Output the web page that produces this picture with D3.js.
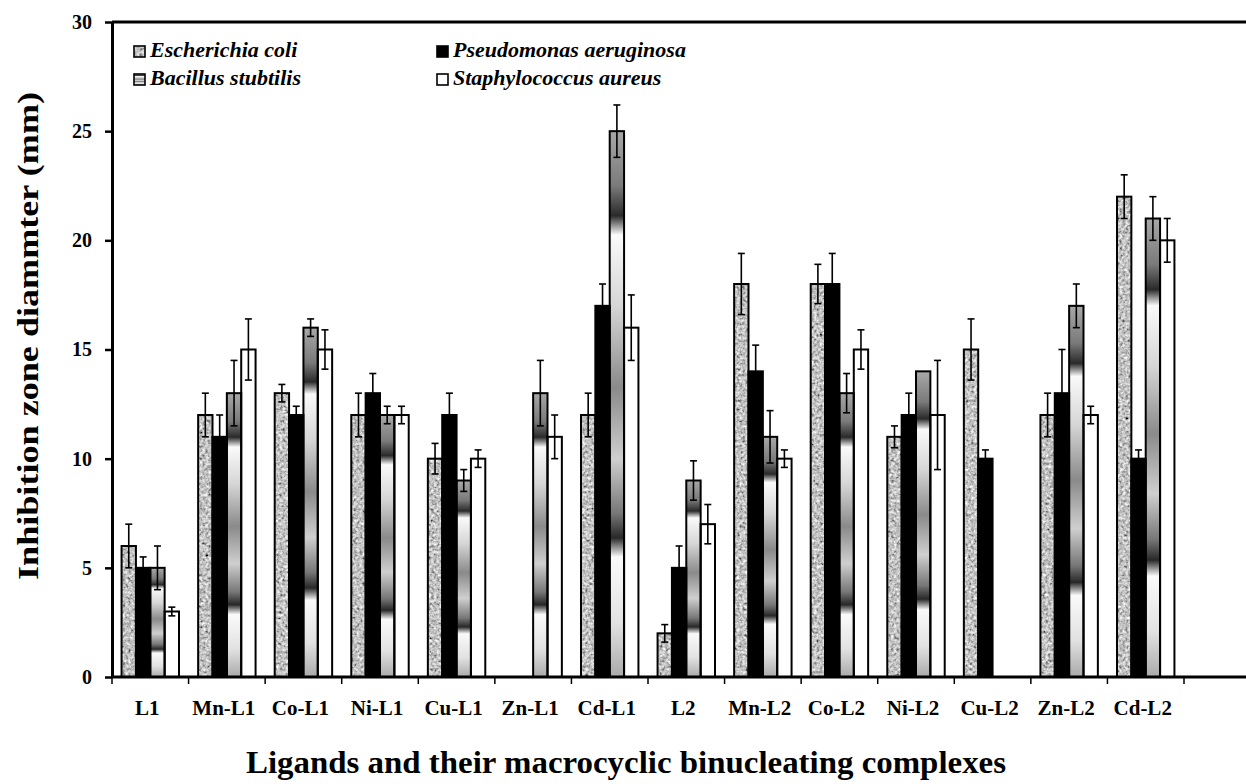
<!DOCTYPE html>
<html lang="en">
<head>
    <meta charset="UTF-8">
    <title>Inhibition zone chart</title>
    <style>
        body { margin: 0; background: #fff; }
    </style>
</head>
<body>
    <svg id="container" width="1246" height="784"></svg>

<script src="https://cdn.jsdelivr.net/npm/d3@7"></script>
<script>

    // chart data
    let categories = ["L1", "Mn-L1", "Co-L1", "Ni-L1", "Cu-L1", "Zn-L1", "Cd-L1",
                      "L2", "Mn-L2", "Co-L2", "Ni-L2", "Cu-L2", "Zn-L2", "Cd-L2"]
    let seriesNames = ["Escherichia coli", "Pseudomonas aeruginosa", "Bacillus stubtilis", "Staphylococcus aureus"]

    let ecoli     = [6, 12, 13, 12, 10, 0, 12, 2, 18, 18, 11, 15, 12, 22]
    let pseudo    = [5, 11, 12, 13, 12, 0, 17, 5, 14, 18, 12, 10, 13, 10]
    let bacillus  = [5, 13, 16, 12, 9, 13, 25, 9, 11, 13, 14, 0, 17, 21]
    let staph     = [3, 15, 15, 12, 10, 11, 16, 7, 10, 15, 12, 0, 12, 20]

    let ecoliErr    = [1, 1, 0.4, 1, 0.7, 0, 1, 0.4, 1.4, 0.9, 0.5, 1.4, 1, 1]
    let pseudoErr   = [0.5, 1, 0.4, 0.9, 1, 0, 1, 1, 1.2, 1.4, 1, 0.4, 2, 0.4]
    let bacillusErr = [1, 1.5, 0.4, 0.4, 0.5, 1.5, 1.2, 0.9, 1.2, 0.9, 0, 0, 1, 1]
    let staphErr    = [0.2, 1.4, 0.9, 0.4, 0.4, 1, 1.5, 0.9, 0.4, 0.9, 2.5, 0, 0.4, 1]

    let yTicks = [0, 5, 10, 15, 20, 25, 30]

    let values = [ecoli, pseudo, bacillus, staph]
    let errors = [ecoliErr, pseudoErr, bacillusErr, staphErr]

    let rows = []
    categories.forEach((c, i) => {
        seriesNames.forEach((s, j) => {
            rows.push({ cat: c, series: s, value: values[j][i], err: errors[j][i] })
        })
    })

    let serif = '"Liberation Serif", "Times New Roman", serif'
    let plotLeft = 112, plotRight = 1246, plotTop = 22, plotBottom = 677
    let plotEnd = 1184

    let container = d3.select("#container")
    let defs = container.append("defs")

    // speckled grey for E. coli
    let speckle = defs.append("filter").attr("id", "speckle")
        .attr("x", 0).attr("y", 0).attr("width", 1).attr("height", 1)
    speckle.append("feTurbulence").attr("type", "fractalNoise")
        .attr("baseFrequency", 0.35).attr("numOctaves", 2).attr("seed", 4).attr("result", "n")
    speckle.append("feColorMatrix").attr("in", "n").attr("type", "matrix")
        .attr("values", "0.33 0.33 0.33 0 0  0.33 0.33 0.33 0 0  0.33 0.33 0.33 0 0  0 0 0 0 1")
        .attr("result", "g")
    let ct = speckle.append("feComponentTransfer").attr("in", "g").attr("result", "c")
    ;["feFuncR", "feFuncG", "feFuncB"].forEach(f =>
        ct.append(f).attr("type", "linear").attr("slope", 2.1).attr("intercept", -0.5))
    speckle.append("feComposite").attr("in", "c").attr("in2", "SourceGraphic").attr("operator", "in")

    // banded gradient for B. subtilis
    let grad = defs.append("linearGradient").attr("id", "band")
        .attr("x1", 0).attr("y1", 0).attr("x2", 0).attr("y2", 1)
    ;[[0, "#a8a8a8"], [0.1, "#7a7a7a"], [0.155, "#2a2a2a"], [0.19, "#fafafa"], [0.32, "#d6d6d6"],
      [0.47, "#8a8a8a"], [0.6, "#cfcfcf"], [0.7, "#777"], [0.745, "#282828"], [0.78, "#fafafa"],
      [0.9, "#e2e2e2"], [1, "#aaa"]]
        .forEach(s => grad.append("stop").attr("offset", s[0]).attr("stop-color", s[1]))

    let fills = {
        "Escherichia coli": "#999",
        "Pseudomonas aeruginosa": "#000",
        "Bacillus stubtilis": "url(#band)",
        "Staphylococcus aureus": "#fff"
    }

    let y = d3.scaleLinear().domain([0, 30]).range([plotBottom, plotTop])

    let x0 = d3.scaleBand().domain(categories).range([plotLeft, plotEnd])
        .paddingInner(0.25).paddingOuter(0.125)
    let x1 = d3.scaleBand().domain(seriesNames).range([0, x0.bandwidth()])

    let bars = rows.filter(d => d.value > 0)

    let barG = container.append("g")
    barG.selectAll("rect.fill")
        .data(bars)
        .enter()
        .append("rect")
        .attr("x", d => x0(d.cat) + x1(d.series))
        .attr("y", d => y(d.value))
        .attr("width", x1.bandwidth())
        .attr("height", d => y(0) - y(d.value))
        .attr("fill", d => fills[d.series])
        .attr("filter", d => d.series == "Escherichia coli" ? "url(#speckle)" : null)

    barG.selectAll("rect.outline")
        .data(bars)
        .enter()
        .append("rect")
        .attr("x", d => x0(d.cat) + x1(d.series))
        .attr("y", d => y(d.value))
        .attr("width", x1.bandwidth())
        .attr("height", d => y(0) - y(d.value))
        .attr("fill", "none")
        .attr("stroke", "#000")
        .attr("stroke-width", 2)

    // error bars
    let errG = container.append("g").attr("stroke", "#000").attr("stroke-width", 1.6)
    let withErr = bars.filter(d => d.err > 0)
    let cx = d => x0(d.cat) + x1(d.series) + x1.bandwidth() / 2
    errG.selectAll("line.v").data(withErr).enter().append("line")
        .attr("x1", cx).attr("x2", cx)
        .attr("y1", d => y(d.value - d.err)).attr("y2", d => y(d.value + d.err))
    errG.selectAll("line.t").data(withErr).enter().append("line")
        .attr("x1", d => cx(d) - 3.5).attr("x2", d => cx(d) + 3.5)
        .attr("y1", d => y(d.value + d.err)).attr("y2", d => y(d.value + d.err))
    errG.selectAll("line.b").data(withErr).enter().append("line")
        .attr("x1", d => cx(d) - 3.5).attr("x2", d => cx(d) + 3.5)
        .attr("y1", d => y(d.value - d.err)).attr("y2", d => y(d.value - d.err))

    // y axis
    let yAxis = container.append("g")
        .attr("transform", `translate(${plotLeft},0)`)
        .call(d3.axisLeft(y).tickValues(yTicks).tickSize(7).tickSizeOuter(0).tickPadding(13))
    yAxis.select(".domain").attr("stroke-width", 3)
    yAxis.selectAll(".tick line").attr("stroke-width", 2.5)
    yAxis.selectAll("text")
        .style("font-family", serif)
        .style("font-size", "20px")
        .style("font-weight", "bold")
        .attr("fill", "#000")

    // x axis
    let step = x0.step()
    let boundaries = d3.range(categories.length + 1).map(i => plotLeft + i * step)
    container.append("line")
        .attr("x1", plotLeft).attr("x2", plotRight).attr("y1", plotBottom).attr("y2", plotBottom)
        .attr("stroke", "#000").attr("stroke-width", 3)
    container.append("g").selectAll("line")
        .data(boundaries).enter().append("line")
        .attr("x1", d => d).attr("x2", d => d)
        .attr("y1", plotBottom).attr("y2", plotBottom + 7)
        .attr("stroke", "#000").attr("stroke-width", 1.5)
    container.append("g").selectAll("text")
        .data(categories).enter().append("text")
        .attr("x", d => x0(d) + x0.bandwidth() / 2 - 3)
        .attr("y", 715)
        .attr("text-anchor", "middle")
        .style("font-family", serif)
        .style("font-size", "21px")
        .style("font-weight", "bold")
        .text(d => d)

    // top frame line
    container.append("line")
        .attr("x1", plotLeft).attr("x2", plotRight).attr("y1", plotTop).attr("y2", plotTop)
        .attr("stroke", "#000").attr("stroke-width", 3)

    // axis titles
    container.append("text")
        .attr("x", 626).attr("y", 773)
        .attr("text-anchor", "middle")
        .style("font-family", serif)
        .style("font-size", "31px")
        .style("font-weight", "bold")
        .attr("textLength", 760)
        .attr("lengthAdjust", "spacingAndGlyphs")
        .text("Ligands and their macrocyclic binucleating complexes")

    container.append("text")
        .attr("transform", "translate(38,336) rotate(-90)")
        .attr("text-anchor", "middle")
        .style("font-family", serif)
        .style("font-size", "30px")
        .style("font-weight", "bold")
        .attr("textLength", 488)
        .attr("lengthAdjust", "spacingAndGlyphs")
        .text("Inhibition zone diammter (mm)")

    // legend
    let legendPos = [[134, 57], [437, 57], [134, 85], [437, 85]]
    let legend = container.append("g").selectAll("g")
        .data(seriesNames).enter().append("g")
        .attr("transform", (d, i) => `translate(${legendPos[i][0]},${legendPos[i][1]})`)
    legend.append("rect")
        .attr("x", 0).attr("y", -11).attr("width", 11).attr("height", 11)
        .attr("fill", d => fills[d])
        .attr("filter", d => d == "Escherichia coli" ? "url(#speckle)" : null)
    legend.append("rect")
        .attr("x", 0).attr("y", -11).attr("width", 11).attr("height", 11)
        .attr("fill", "none").attr("stroke", "#000").attr("stroke-width", 1.6)
    legend.append("text")
        .attr("x", 16).attr("y", 0)
        .style("font-family", serif)
        .style("font-size", "22px")
        .style("font-weight", "bold")
        .style("font-style", "italic")
        .text(d => d)

</script>
</body>
</html>
